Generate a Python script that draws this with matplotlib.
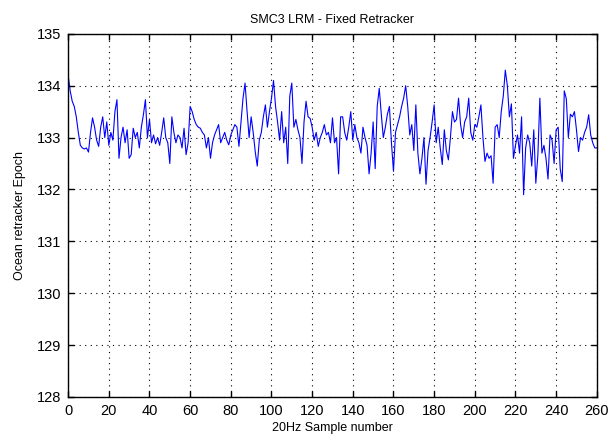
import matplotlib
matplotlib.use("Agg")
import matplotlib.pyplot as plt
import numpy as np

# Fixed retracker epoch for each 20Hz sample (0..260)
epoch = [
    134.2, 133.9, 133.7, 133.6, 133.4, 133.1, 132.85, 132.8, 132.78, 132.8,
    132.72, 133.1, 133.38, 133.2, 132.95, 132.83, 133.2, 133.4, 133.0, 133.3,
    132.85, 133.1, 132.95, 133.5, 133.73, 132.6, 133.0, 133.2, 132.9, 133.15,
    132.6, 132.67, 133.18, 133.0, 133.1, 132.8, 133.2, 133.44, 133.73, 133.0,
    133.35, 132.9, 133.05, 132.88, 133.0, 132.85, 133.1, 133.38, 133.0, 132.9,
    132.5, 133.4, 133.1, 132.9, 133.05, 133.0, 132.8, 133.18, 132.67, 132.9,
    133.6, 133.5, 133.35, 133.25, 133.2, 133.18, 133.1, 133.05, 132.8, 133.0,
    132.6, 132.9, 133.05, 133.15, 133.25, 132.9, 133.0, 133.1, 132.95, 132.86,
    133.05, 133.15, 133.25, 133.2, 132.83, 133.3, 133.76, 134.05, 133.5, 133.0,
    133.4, 133.1, 132.73, 132.45, 132.95, 133.1, 133.4, 133.63, 133.2, 133.5,
    133.76, 134.1, 133.6, 133.3, 132.95, 133.5, 132.9, 133.2, 132.5, 133.8,
    134.05, 133.2, 133.35, 133.15, 133.0, 132.5, 133.3, 133.7, 133.4, 133.37,
    133.2, 132.95, 133.1, 132.83, 133.0, 133.1, 133.25, 133.05, 133.1, 132.9,
    133.38, 132.9, 133.0, 132.3, 133.4, 133.4, 133.1, 132.95, 133.2, 133.5,
    132.95, 133.25, 133.0, 132.9, 132.7, 133.2, 133.0, 132.85, 132.3, 132.7,
    133.3, 132.4, 133.6, 133.95, 133.45, 133.0, 133.2, 133.45, 133.6, 132.9,
    132.35, 133.1, 133.25, 133.4, 133.6, 133.76, 134.0, 133.6, 133.05, 133.25,
    132.75, 133.63, 132.7, 132.3, 132.6, 133.0, 132.1, 132.75, 133.0, 133.3,
    133.63, 132.9, 133.2, 132.8, 132.48, 133.15, 132.75, 132.57, 133.0, 133.5,
    133.3, 133.35, 133.76, 133.25, 133.0, 133.3, 133.4, 133.76, 133.1, 132.95,
    133.25, 133.2, 133.4, 133.63, 133.0, 132.54, 132.7, 132.6, 132.65, 132.12,
    133.2, 133.25, 133.0, 133.5, 133.8, 134.3, 134.0, 133.4, 133.65, 132.6,
    132.85, 133.05, 132.7, 133.4, 131.9, 132.8, 133.05, 132.9, 132.45, 133.15,
    132.12, 132.65, 133.76, 132.7, 132.85, 132.6, 132.2, 133.05, 132.95, 132.5,
    133.15, 133.2, 132.4, 132.15, 133.9, 133.75, 133.0, 133.45, 133.4, 133.5,
    133.15, 132.73, 133.0, 132.95, 133.1, 133.2, 133.44, 133.05, 132.9, 132.8,
    132.8,
]
samples = np.arange(len(epoch))

xticks = list(range(0, 261, 20))
yticks = list(range(128, 136))

plt.rcParams['font.family'] = ['Liberation Sans', 'DejaVu Sans']

fig = plt.figure(figsize=(6.14, 4.45), dpi=100)
ax = fig.add_axes([0.111, 0.108, 0.861, 0.816])

ax.plot(samples, epoch, color=(0, 0, 1), linewidth=0.8)

ax.set_xlim(0, 260)
ax.set_ylim(128, 135)
ax.set_xticks(xticks)
ax.set_yticks(yticks)
ax.tick_params(direction='in', top=True, right=True, length=4, width=1,
               labelsize=10.5, pad=5)
ax.grid(True, color='black', linestyle=(0, (1, 4)), linewidth=0.8)
for s in ax.spines.values():
    s.set_linewidth(1.0)

ax.set_title('SMC3 LRM - Fixed Retracker', fontsize=9, pad=8)
ax.set_xlabel('20Hz Sample number', fontsize=9, labelpad=3)
ax.set_ylabel('Ocean retracker Epoch', fontsize=9, labelpad=8)

fig.savefig('out.png', dpi=100)
